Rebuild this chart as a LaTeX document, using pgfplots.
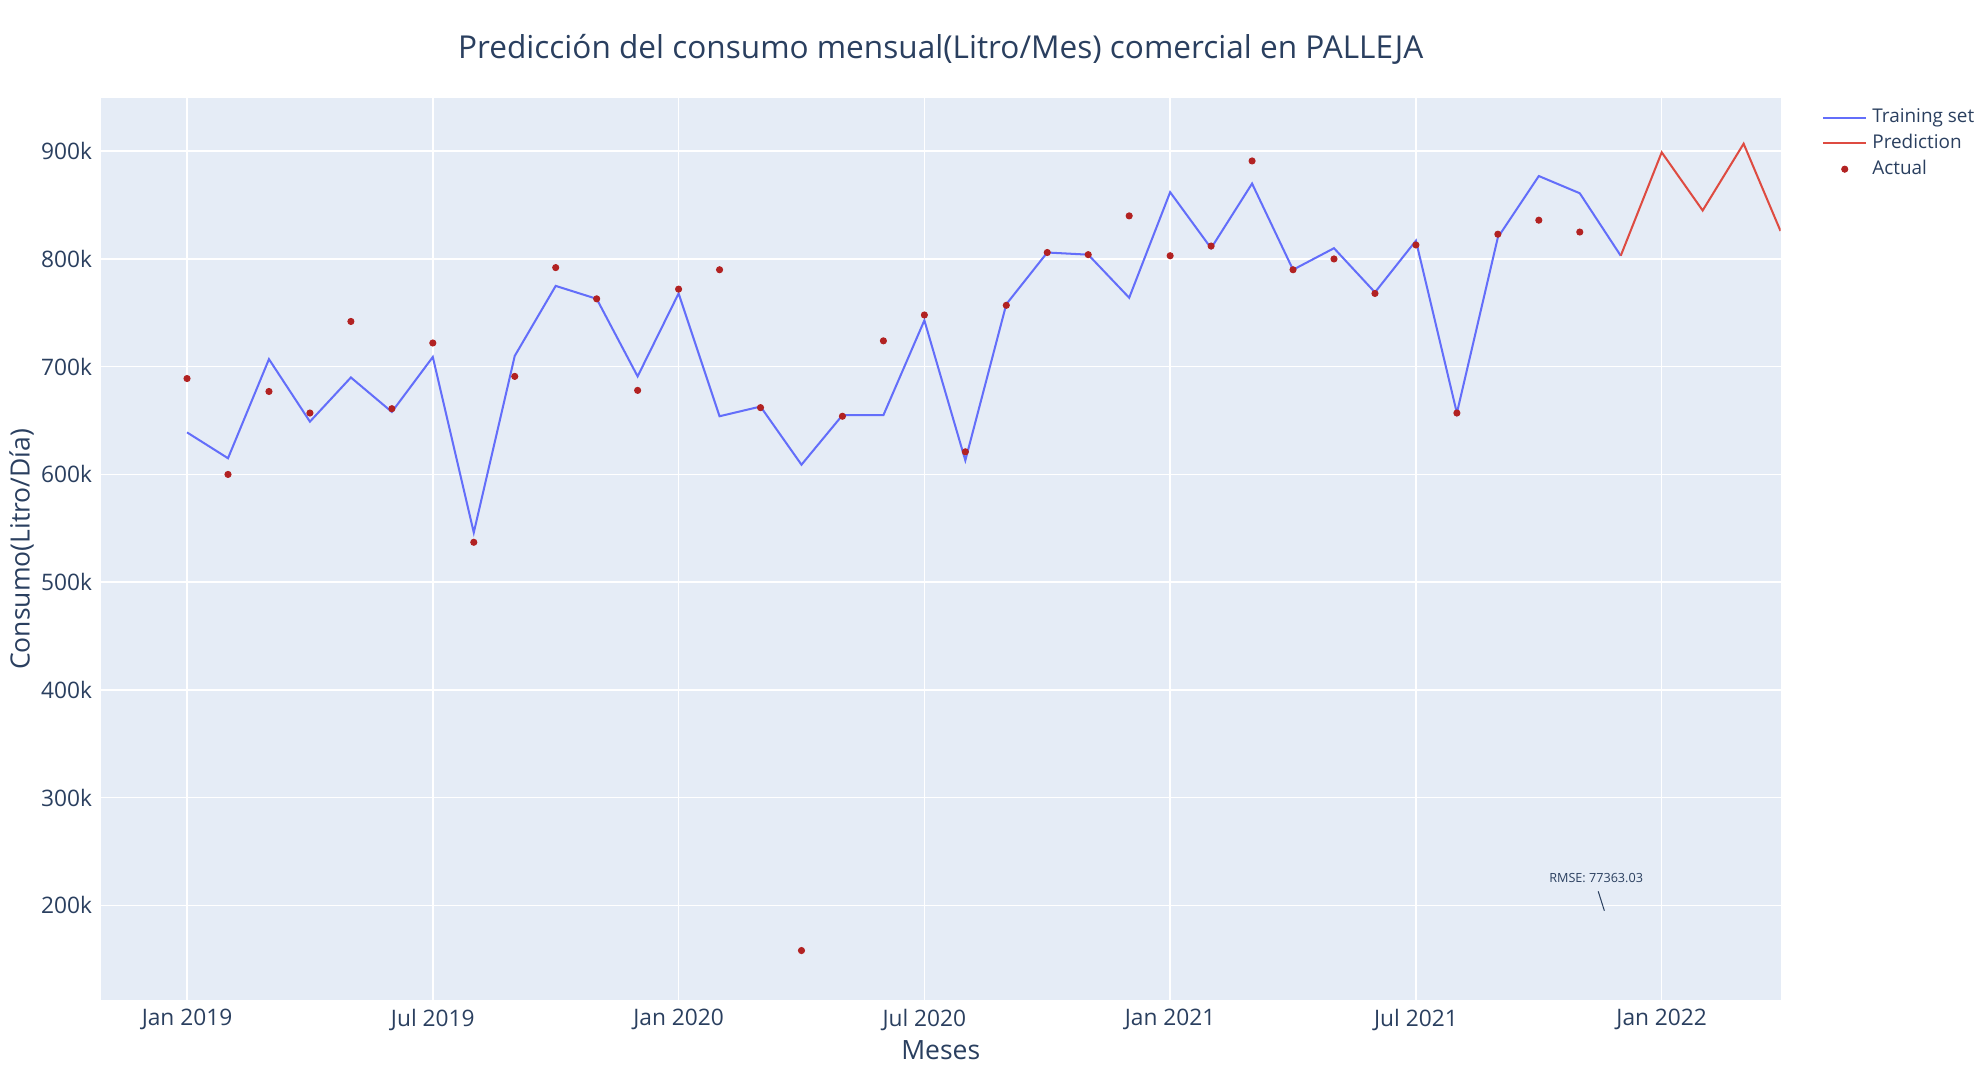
\documentclass[border=0pt]{standalone}
\usepackage{pgfplots}
\pgfplotsset{compat=1.18}
\usepackage{fontspec}
\setmainfont{Open Sans}
\definecolor{bg}{HTML}{E5ECF6}
\definecolor{txt}{HTML}{2A3F5F}
\definecolor{trn}{HTML}{636EFA}
\definecolor{prd}{HTML}{DE4B41}
\definecolor{act}{HTML}{B22222}
\begin{document}
\begin{tikzpicture}
\path[use as bounding box] (-40pt,-31.5pt) rectangle (744pt,396pt);
\begin{axis}[at={(0,0)},anchor=south west,scale only axis,width=665pt,height=357pt,
 xmin=-2.1,xmax=38.9,ymin=112000,ymax=949000,
 axis background/.style={fill=bg},axis line style={draw=none},
 major tick length=0pt, grid=major, grid style={white,line width=0.6pt},
 xtick={0,6,12,18,24,30,36},
 xticklabels={Jan 2019,Jul 2019,Jan 2020,Jul 2020,Jan 2021,Jul 2021,Jan 2022},
 ytick={200000,300000,400000,500000,600000,700000,800000,900000},
 yticklabels={200k,300k,400k,500k,600k,700k,800k,900k},
 scaled y ticks=false,
 ticklabel style={font=\fontsize{9}{10}\selectfont,text=txt},
 xlabel={Meses},ylabel={Consumo(Litro/Día)},
 label style={font=\fontsize{10.5}{12}\selectfont,text=txt},
 xlabel style={yshift=3pt}, ylabel style={yshift=-4pt},
 title={Predicción del consumo mensual(Litro/Mes) comercial en PALLEJA},
 title style={font=\fontsize{12.5}{14}\selectfont,text=txt,yshift=4pt},
 legend style={at={(1.02,1.0)},anchor=north west,draw=none,fill=none,font=\fontsize{7.5}{9}\selectfont,text=txt,row sep=-1pt},
 legend cell align=left,
 clip=true]
\addplot[trn,line width=0.8pt,mark=none] coordinates {
(0,639000)(1,615000)(2,707000)(3,649000)(4,690000)(5,658000)(6,709000)(7,546000)(8,710000)(9,775000)(10,763000)(11,691000)(12,768000)(13,654000)(14,663000)(15,609000)(16,655000)(17,655000)(18,743000)(19,613000)(20,758000)(21,806000)(22,804000)(23,764000)(24,862000)(25,810000)(26,870000)(27,790000)(28,810000)(29,769000)(30,817000)(31,657000)(32,820000)(33,877000)(34,861000)(35,803000)};
\addlegendentry{Training set}
\addplot[prd,line width=0.8pt,mark=none] coordinates {
(35,803000)(36,899000)(37,845000)(38,907000)(38.9,826000)};
\addlegendentry{Prediction}
\addplot[only marks,mark=*,mark size=1.2pt,act,mark options={draw=act,fill=act}] coordinates {
(0,689000)(1,600000)(2,677000)(3,657000)(4,742000)(5,661000)(6,722000)(7,537000)(8,691000)(9,792000)(10,763000)(11,678000)(12,772000)(13,790000)(14,662000)(15,158000)(16,654000)(17,724000)(18,748000)(19,621000)(20,757000)(21,806000)(22,804000)(23,840000)(24,803000)(25,812000)(26,891000)(27,790000)(28,800000)(29,768000)(30,813000)(31,657000)(32,823000)(33,836000)(34,825000)};
\addlegendentry{Actual}
\draw[txt,line width=0.4pt] (axis cs:34.6,195000) -- (axis cs:34.45,213000);
\node[font=\fontsize{5}{6}\selectfont,text=txt,anchor=south] at (axis cs:34.4,213000) {RMSE: 77363.03};
\end{axis}
\end{tikzpicture}
\end{document}
